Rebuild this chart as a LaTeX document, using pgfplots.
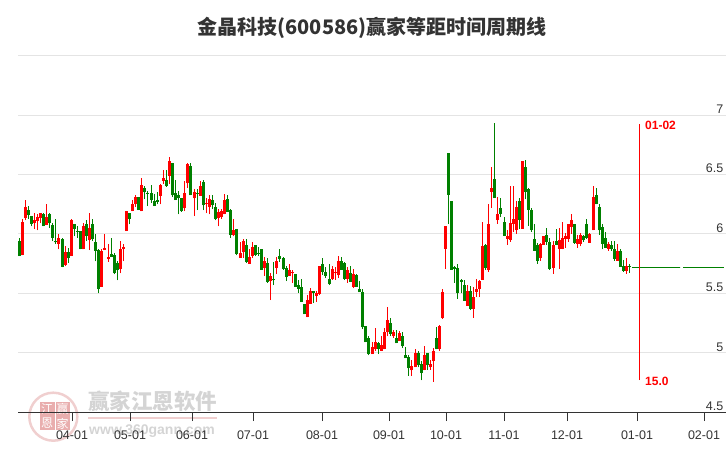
\documentclass[border=0pt]{standalone}
\usepackage{fontspec}
\setmainfont{Liberation Sans}
\newfontfamily\cjk{Noto Sans CJK SC}
\usepackage{pgfplots}
\usepackage{pgfplotstable}
\pgfplotsset{compat=1.18}
\definecolor{upred}{HTML}{FF0000}
\definecolor{downgreen}{HTML}{008000}
\definecolor{inkgrey}{HTML}{333333}
\definecolor{gridgrey}{HTML}{E4E4E4}
\definecolor{sealpink}{HTML}{F0CFCF}
\definecolor{sealred}{HTML}{E9AEAE}
\definecolor{markgrey}{HTML}{D4D4D4}

% x = position along the time axis, then high, body top, body bottom, low
\pgfplotstableread{
x h t b l
22.3 6.125 6.10 5.82 5.82
25.3 6.285 6.23 6.135 6.115
34.3 6.18 6.12 6.095 6.04
37.3 6.165 6.145 6.11 6.03
40.3 6.18 6.18 6.135 6.09
46.3 6.25 6.145 6.075 6.075
58.3 6.00 5.97 5.92 5.87
65.3 5.90 5.85 5.74 5.73
71.3 6.125 6.115 5.815 5.815
83.3 6.09 6.065 5.87 5.87
89.3 6.175 6.05 5.95 5.865
101.3 5.87 5.86 5.555 5.555
104.3 6.00 5.88 5.865 5.865
108.3 5.915 5.805 5.79 5.765
120.3 5.94 5.87 5.71 5.67
123.3 5.92 5.89 5.87 5.77
126.3 6.19 6.19 6.025 6.025
132.3 6.285 6.25 6.19 6.19
135.3 6.325 6.31 6.25 6.225
141.3 6.47 6.41 6.19 6.19
160.3 6.42 6.41 6.32 6.25
163.3 6.535 6.47 6.445 6.42
169.3 6.645 6.61 6.49 6.42
184.3 6.445 6.345 6.215 6.19
187.3 6.595 6.585 6.425 6.385
194.3 6.375 6.35 6.30 6.15
200.3 6.445 6.40 6.32 6.32
206.3 6.30 6.26 6.25 6.175
209.3 6.325 6.29 6.225 6.165
218.3 6.21 6.185 6.135 6.065
221.3 6.21 6.19 6.14 6.125
224.3 6.335 6.285 6.165 6.165
233.3 6.125 6.03 5.99 5.98
240.3 5.93 5.84 5.80 5.80
243.3 5.96 5.945 5.85 5.80
249.3 5.875 5.81 5.75 5.75
252.3 5.935 5.89 5.815 5.80
264.3 5.81 5.775 5.715 5.65
270.3 5.67 5.65 5.605 5.445
276.3 5.81 5.775 5.715 5.665
289.3 5.75 5.70 5.65 5.65
292.3 5.70 5.68 5.67 5.59
307.3 5.49 5.445 5.30 5.30
310.3 5.545 5.52 5.41 5.41
316.3 5.52 5.505 5.48 5.43
319.3 5.73 5.73 5.495 5.485
332.3 5.73 5.705 5.62 5.615
335.3 5.725 5.68 5.67 5.615
338.3 5.815 5.775 5.655 5.63
347.3 5.725 5.70 5.62 5.59
353.3 5.705 5.665 5.555 5.545
372.3 5.09 5.05 4.99 4.99
375.3 5.21 5.09 5.03 5.02
381.3 5.14 5.065 5.02 5.015
384.3 5.21 5.175 5.03 5.03
387.3 5.385 5.275 5.175 5.14
393.3 5.19 5.175 5.14 5.13
399.3 5.185 5.165 5.105 5.10
411.3 4.94 4.89 4.855 4.81
415.3 5.03 5.00 4.88 4.88
424.3 5.055 4.98 4.855 4.855
430.3 4.94 4.905 4.88 4.86
433.3 5.04 5.02 4.93 4.76
439.3 5.235 5.225 5.03 5.015
442.3 5.54 5.51 5.295 5.285
445.3 6.07 6.07 5.875 5.705
467.3 5.57 5.52 5.395 5.395
473.3 5.555 5.47 5.37 5.295
476.3 5.625 5.54 5.515 5.47
479.3 5.615 5.605 5.54 5.47
482.3 6.105 5.895 5.615 5.615
488.3 6.25 6.085 5.70 5.68
491.3 6.565 6.39 6.355 6.22
497.3 6.315 6.17 6.12 6.085
507.3 6.03 5.985 5.96 5.91
510.3 6.405 6.095 5.95 5.935
513.3 6.40 6.13 6.085 6.02
516.3 6.28 6.23 6.03 6.00
522.3 6.61 6.61 6.045 6.045
540.3 5.925 5.92 5.80 5.775
543.3 5.985 5.98 5.91 5.91
553.3 5.945 5.91 5.715 5.665
559.3 6.05 5.95 5.875 5.71
562.3 6.105 5.97 5.875 5.87
565.3 6.01 5.985 5.96 5.885
568.3 6.085 6.08 5.96 5.935
571.3 6.17 6.12 6.06 6.00
577.3 5.995 5.96 5.92 5.885
580.3 6.01 5.995 5.92 5.895
589.3 6.01 6.00 5.925 5.925
593.3 6.405 6.315 6.03 6.03
608.3 5.935 5.92 5.875 5.86
617.3 5.92 5.86 5.775 5.775
626.3 5.80 5.735 5.69 5.665
}\redbars

\pgfplotstableread{
x h t b l
19.3 5.97 5.94 5.815 5.815
28.3 6.235 6.20 6.16 6.13
31.3 6.15 6.15 6.085 6.065
43.3 6.18 6.165 6.065 6.065
49.3 6.18 6.165 6.09 6.05
52.3 6.09 6.075 5.97 5.94
55.3 6.13 5.94 5.93 5.915
62.3 5.97 5.955 5.725 5.72
68.3 5.88 5.85 5.795 5.755
74.3 6.08 6.08 6.045 5.98
77.3 6.07 6.025 6.015 5.97
80.3 6.025 6.025 5.87 5.87
86.3 6.115 6.08 5.98 5.94
92.3 6.13 6.08 5.955 5.94
95.3 6.00 5.93 5.86 5.77
98.3 5.87 5.865 5.54 5.50
111.3 5.965 5.83 5.805 5.805
114.3 5.84 5.82 5.67 5.66
117.3 5.77 5.755 5.695 5.61
129.3 6.18 6.175 6.13 6.08
138.3 6.31 6.31 6.20 6.20
144.3 6.40 6.385 6.35 6.29
147.3 6.36 6.345 6.335 6.235
151.3 6.41 6.345 6.285 6.26
154.3 6.335 6.275 6.235 6.235
157.3 6.35 6.285 6.27 6.25
166.3 6.535 6.45 6.40 6.395
172.3 6.60 6.60 6.325 6.31
175.3 6.45 6.345 6.285 6.285
178.3 6.36 6.325 6.30 6.165
181.3 6.30 6.30 6.19 6.185
190.3 6.595 6.57 6.325 6.325
197.3 6.375 6.345 6.335 6.20
203.3 6.45 6.435 6.24 6.20
212.3 6.325 6.285 6.24 6.21
215.3 6.26 6.225 6.125 6.115
227.3 6.325 6.29 6.185 6.185
230.3 6.21 6.20 5.99 5.97
236.3 6.04 6.04 5.83 5.82
246.3 5.96 5.91 5.765 5.76
255.3 5.91 5.91 5.825 5.815
258.3 5.89 5.84 5.83 5.815
261.3 5.87 5.87 5.70 5.70
267.3 5.80 5.76 5.60 5.59
273.3 5.765 5.62 5.61 5.57
279.3 5.875 5.815 5.79 5.765
283.3 5.81 5.80 5.705 5.70
286.3 5.73 5.715 5.64 5.605
295.3 5.665 5.665 5.555 5.555
298.3 5.615 5.57 5.54 5.505
301.3 5.62 5.555 5.43 5.43
304.3 5.41 5.41 5.325 5.325
313.3 5.52 5.52 5.50 5.42
322.3 5.80 5.75 5.68 5.655
325.3 5.725 5.68 5.65 5.63
329.3 5.75 5.62 5.58 5.57
341.3 5.81 5.775 5.70 5.70
344.3 5.765 5.76 5.62 5.615
350.3 5.73 5.675 5.60 5.60
356.3 5.665 5.655 5.555 5.555
359.3 5.605 5.54 5.51 5.51
362.3 5.54 5.51 5.215 5.20
365.3 5.225 5.225 5.09 5.09
368.3 5.14 5.13 4.99 4.98
378.3 5.09 5.08 5.03 4.99
390.3 5.295 5.25 5.16 5.14
396.3 5.19 5.13 5.08 5.08
402.3 5.175 5.14 5.055 5.04
405.3 5.05 4.98 4.955 4.955
408.3 4.98 4.965 4.87 4.81
418.3 5.02 5.00 4.895 4.88
421.3 4.93 4.905 4.83 4.77
427.3 5.00 5.00 4.895 4.86
436.3 5.215 5.125 5.03 5.03
448.3 6.68 6.68 6.33 6.085
451.3 6.28 6.28 5.70 5.70
454.3 5.73 5.725 5.71 5.59
457.3 5.75 5.715 5.50 5.455
461.3 5.625 5.61 5.60 5.50
464.3 5.615 5.57 5.44 5.44
470.3 5.565 5.52 5.37 5.36
485.3 5.92 5.91 5.715 5.70
494.3 6.93 6.46 6.305 6.305
500.3 6.305 6.215 6.17 6.14
504.3 6.145 6.105 5.985 5.98
519.3 6.305 6.28 6.12 6.045
525.3 6.625 6.56 6.35 6.29
528.3 6.39 6.375 6.205 6.07
531.3 6.215 6.205 6.03 6.02
534.3 6.085 5.96 5.86 5.86
537.3 5.925 5.91 5.775 5.75
546.3 6.05 5.995 5.935 5.91
549.3 5.97 5.935 5.71 5.70
556.3 6.045 5.945 5.91 5.91
574.3 6.085 6.08 5.925 5.92
583.3 5.995 5.985 5.95 5.935
586.3 6.13 6.085 5.97 5.96
596.3 6.39 6.33 6.25 6.25
599.3 6.25 6.23 6.03 5.995
602.3 6.08 6.06 5.92 5.87
605.3 6.02 5.97 5.885 5.885
611.3 5.945 5.91 5.87 5.86
614.3 5.945 5.87 5.79 5.775
620.3 5.87 5.86 5.725 5.725
623.3 5.785 5.735 5.69 5.68
629.3 5.75 5.735 5.725 5.675
}\greenbars

% cycle marker: x, top, bottom
\pgfplotstableread{
x h l
639.5 6.924 4.773
}\cyclemark

% flat projection after the last session: start, level, length
\pgfplotstableread{
x y w
632 5.72 48
683 5.72 41
}\flatline

\pgfplotsset{
  wick/.style={draw=none, no marks, forget plot,
    error bars/.cd, y dir=plus, y explicit, error mark=none,
    error bar style={line width=1pt, #1}},
  body/.style={draw=none, no marks, forget plot,
    error bars/.cd, y dir=plus, y explicit, error mark=none,
    error bar style={line width=3pt, #1}},
}

\begin{document}
\begin{tikzpicture}[x=1pt,y=1pt]
\path[use as bounding box] (-18,-37.5) rectangle (708,412.5);

% watermark, under the axis
\draw[sealpink, line width=2.5pt] (35.3,-4.2) circle (24);
\foreach \cx/\cy/\ch in {22/3.5/江,37.5/3.5/赢,22/-11/恩,37.5/-11/家}{
  \fill[sealred] (\cx,\cy-7) rectangle ++(14.5,14);
  \node[white, font=\cjk\fontsize{12}{12}\selectfont] at (\cx+7.2,\cy) {\ch};
}
\node[markgrey, font=\cjk\bfseries\fontsize{21.5}{22}\selectfont, anchor=center] at (134.5,11) {赢家江恩软件};
\fill[sealpink] (70,-6.5) rectangle (199,-4.5);
\node[markgrey, font=\bfseries\fontsize{14}{14}\selectfont, anchor=center] at (134,-18.5) {www.360gann.com};

\begin{axis}[
    scale only axis,
    width=708pt, height=357pt,
    xmin=18, xmax=726,
    ymin=4.5, ymax=7.5,
    clip=false,
    font=\fontsize{12.5}{13}\selectfont,
    title={\cjk\bfseries 金晶科技(600586)赢家等距时间周期线},
    title style={at={(0.5,1)}, anchor=center, yshift=21.5pt,
      font=\fontsize{20}{22}\selectfont, text=inkgrey},
    axis x line*=bottom,
    axis y line*=right,
    x axis line style={-, draw=inkgrey, line width=1pt},
    y axis line style={draw=none},
    xtick={72,130,192,253,322,389,446,504,567,637,704},
    xticklabels={04-01,05-01,06-01,07-01,08-01,09-01,10-01,11-01,12-01,01-01,02-01},
    ytick={4.5,5,5.5,6,6.5,7,7.5},
    yticklabels={4.5,5,5.5,6,6.5,7,},
    tick align=outside,
    major tick length=8.5pt,
    x tick style={draw=inkgrey, line width=1pt},
    y tick style={draw=none},
    ymajorgrids,
    grid style={draw=gridgrey, line width=1pt},
    xticklabel style={text=inkgrey, yshift=-6pt},
    yticklabel style={text=inkgrey, anchor=south east, inner xsep=0pt, inner ysep=1.5pt, xshift=-11pt},
]
\addplot[wick=downgreen] table[x=x, y=l, y error expr=\thisrow{h}-\thisrow{l}] {\greenbars};
\addplot[body=downgreen] table[x=x, y=b, y error expr=\thisrow{t}-\thisrow{b}] {\greenbars};
\addplot[wick=upred] table[x=x, y=l, y error expr=\thisrow{h}-\thisrow{l}] {\redbars};
\addplot[body=upred] table[x=x, y=b, y error expr=\thisrow{t}-\thisrow{b}] {\redbars};
\addplot[draw=none, no marks, forget plot,
    error bars/.cd, x dir=plus, x explicit, error mark=none,
    error bar style={line width=1pt, downgreen, dash pattern=on 2.5pt off 0.5pt}]
  table[x=x, y=y, x error=w] {\flatline};
\addplot[draw=none, no marks, forget plot,
    error bars/.cd, y dir=plus, y explicit, error mark=none,
    error bar style={line width=1.5pt, upred}]
  table[x=x, y=l, y error expr=\thisrow{h}-\thisrow{l}] {\cyclemark};
\node[upred, font=\bfseries\fontsize{12}{12}\selectfont, anchor=west, inner sep=0pt] at (axis cs:645,6.915) {01-02};
\node[upred, font=\bfseries\fontsize{12}{12}\selectfont, anchor=west, inner sep=0pt] at (axis cs:645,4.765) {15.0};
\end{axis}
\end{tikzpicture}
\end{document}
